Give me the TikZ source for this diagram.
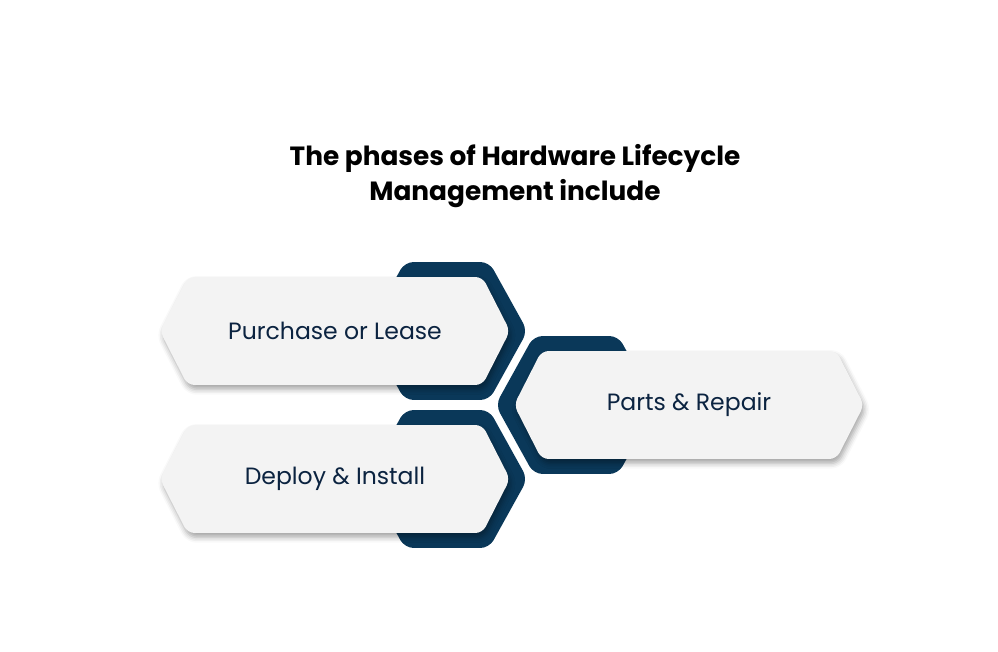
\documentclass[tikz,border=0pt]{standalone}
\usepackage{fontspec}
\setmainfont{Poppins}
\usetikzlibrary{shapes.symbols,shadows.blur}

\definecolor{hlcnavy}{HTML}{0A3859}
\definecolor{hlctext}{HTML}{0B2340}
\definecolor{hlcbox}{HTML}{F3F3F3}

\begin{document}
\begin{tikzpicture}[x=0.02cm, y=-0.02cm,
    frame/.style={signal, signal to=east and west, signal pointer angle=122, fill=hlcnavy,
        inner sep=0pt, minimum width=3.22cm, minimum height=2.76cm, rounded corners=5pt},
    phasebox/.style={signal, signal to=east and west, signal pointer angle=126, fill=hlcbox,
        inner sep=0pt, minimum width=7cm, minimum height=2.16cm, rounded corners=4pt,
        text=hlctext, font=\fontsize{13.4}{15}\selectfont,
        blur shadow={shadow xshift=1pt, shadow yshift=-2.5pt, shadow blur radius=3pt, shadow opacity=35}}
]
    \useasboundingbox (0,0) rectangle (998,652);

    % Title
    \node[align=center, font=\bfseries\fontsize{15}{19.5}\selectfont] (title) at (515,176)
        {The phases of Hardware Lifecycle\\Management include};

    % Dark frames behind the boxes
    \node[frame] (frame1) at (447,331) {};
    \node[frame] (frame2) at (447,479) {};
    \node[frame] (frame3) at (576,405) {};

    % Phase boxes
    \node[phasebox] (purchase) at (335,331) {Purchase or Lease};
    \node[phasebox] (deploy) at (335,479) {Deploy \& Install};
    \node[phasebox] (repair) at (689,405) {Parts \& Repair};

\end{tikzpicture}
\end{document}
